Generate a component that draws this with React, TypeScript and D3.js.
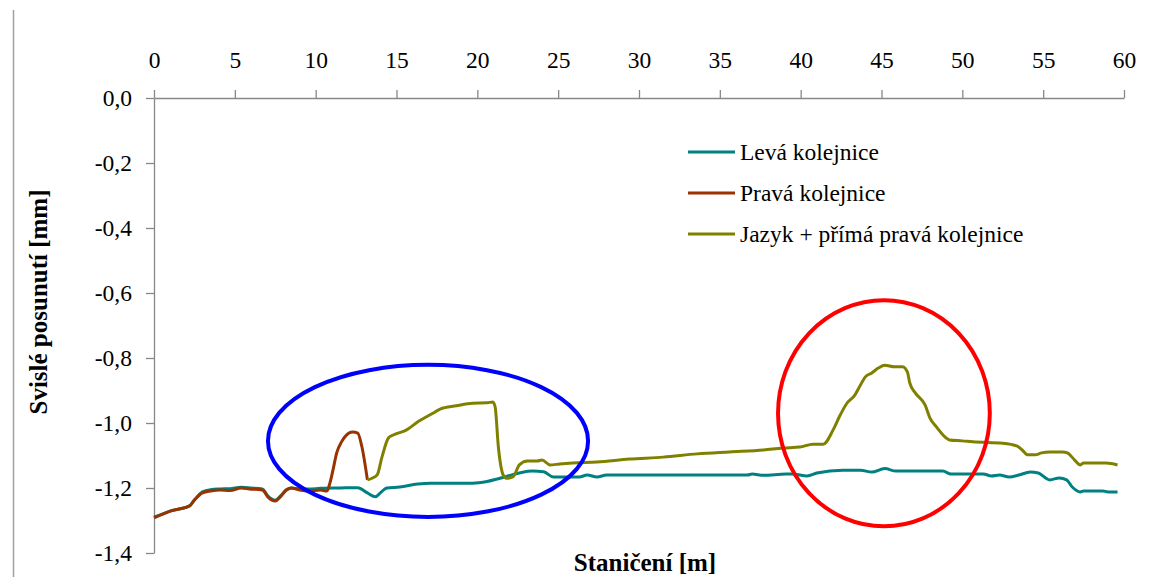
import React, { useEffect, useRef } from 'react';
import * as d3 from 'd3';

// Vertical displacement along the track (x in m, y in mm)
const levaKolejnice: [number, number][] = [
  [0, -1.29], [1, -1.271], [2.2, -1.255], [2.5, -1.237], [3, -1.212], [3.5, -1.205],
  [4.1, -1.203], [4.7, -1.202], [5.4, -1.198], [6, -1.2], [6.7, -1.203], [7.05, -1.225],
  [7.5, -1.238], [7.8, -1.226], [8.2, -1.205], [8.5, -1.2], [9, -1.203], [9.6, -1.203],
  [10.3, -1.201], [11.5, -1.2], [12.6, -1.199], [13.2, -1.215], [13.7, -1.227], [14.0, -1.215],
  [14.4, -1.2], [15.2, -1.197], [16.3, -1.188], [17.1, -1.185], [19.7, -1.185], [20.6, -1.18],
  [21.4, -1.17], [22.6, -1.154], [23.4, -1.148], [24.1, -1.15], [24.7, -1.166], [26.3, -1.166],
  [26.8, -1.16], [27.4, -1.166], [28, -1.16], [36.7, -1.16], [37, -1.157], [37.7, -1.161],
  [39.1, -1.157], [39.5, -1.157], [40.4, -1.163], [41, -1.154], [42.6, -1.145], [43.7, -1.145],
  [44.4, -1.151], [45.2, -1.14], [45.9, -1.148], [48.8, -1.148], [49.3, -1.157], [51.3, -1.157],
  [51.8, -1.163], [52.3, -1.16], [52.9, -1.166], [53.5, -1.16], [54.2, -1.151], [54.7, -1.154],
  [55.4, -1.175], [56, -1.169], [56.45, -1.175], [56.8, -1.197], [57.3, -1.212], [57.5, -1.209],
  [58.7, -1.209], [59, -1.212], [59.6, -1.212],
];

const pravaKolejnice: [number, number][] = [
  [0, -1.292], [1, -1.271], [2.2, -1.255], [2.5, -1.237], [3, -1.215], [3.5, -1.209],
  [4.1, -1.206], [4.7, -1.208], [5.4, -1.2], [5.9, -1.203], [6.7, -1.206], [7.05, -1.228],
  [7.5, -1.24], [7.8, -1.228], [8.2, -1.206], [8.5, -1.2], [9, -1.206], [9.6, -1.209],
  [10.3, -1.206], [10.7, -1.209], [10.88, -1.185], [11.07, -1.145], [11.3, -1.092], [11.6, -1.058],
  [11.8, -1.043], [12.3, -1.028], [12.6, -1.031], [12.86, -1.073], [13.2, -1.175],
];

const jazykPrimaPrava: [number, number][] = [
  [13.2, -1.175], [13.8, -1.16], [14.1, -1.105], [14.5, -1.046], [14.8, -1.037], [15.6, -1.022],
  [16.3, -0.997], [17.25, -0.97], [17.7, -0.957], [18.7, -0.947], [19.7, -0.939], [20.6, -0.938],
  [20.96, -0.935], [21.1, -0.95], [21.3, -1.073], [21.6, -1.16], [21.8, -1.17], [22.2, -1.166],
  [22.6, -1.129], [23.1, -1.117], [23.7, -1.117], [24.0, -1.114], [24.5, -1.129], [25.1, -1.126],
  [25.9, -1.123], [27.4, -1.12], [29.4, -1.111], [31.5, -1.105], [33.6, -1.095], [35.6, -1.089],
  [37.7, -1.083], [38.9, -1.077], [39.95, -1.074], [40.76, -1.065], [41.4, -1.065], [42.0, -1.022],
  [42.4, -0.98], [42.85, -0.94], [43.35, -0.914], [43.7, -0.883], [44.0, -0.858], [44.4, -0.846],
  [44.8, -0.831], [45.2, -0.822], [45.8, -0.827], [46.3, -0.827], [46.6, -0.843], [46.75, -0.877],
  [47.1, -0.908], [47.7, -0.945], [48.0, -0.985], [48.4, -1.012], [49.0, -1.046], [49.2, -1.052],
  [50.0, -1.055], [50.65, -1.058], [52.5, -1.062], [53.4, -1.071], [53.7, -1.083], [54.05, -1.098],
  [54.5, -1.098], [54.9, -1.092], [55.4, -1.089], [56.2, -1.089], [56.5, -1.092], [56.95, -1.114],
  [57.3, -1.129], [57.5, -1.123], [58.9, -1.123], [59.6, -1.129],
];

const xTicks = [0, 5, 10, 15, 20, 25, 30, 35, 40, 45, 50, 55, 60];
const yTicks = [0, -0.2, -0.4, -0.6, -0.8, -1.0, -1.2, -1.4];

const seriesNames = ['Levá kolejnice', 'Pravá kolejnice', 'Jazyk + přímá pravá kolejnice'];
const seriesColors = ['#008080', '#993300', '#808000'];

// highlight ellipses in data units: [cx, cy, rx (m), ry (mm), colour]
const highlights: [number, number, number, number, string][] = [
  [16.95, -1.055, 9.9, 0.234, '#0000ff'],
  [45.15, -0.97, 6.55, 0.348, '#ff0000'],
];

const FONT = "'Liberation Serif', serif";

export default function App() {
  const ref = useRef<SVGSVGElement | null>(null);

  useEffect(() => {
    const el = ref.current;
    if (!el) return;
    const svg = d3.select(el);
    svg.selectAll('*').remove();

    const W = 1151;
    const H = 577;
    const left = 154;
    const right = 1124;
    const top = 98;
    const bottom = 553;
    const axisColor = '#888888';
    const fs = 23.5;

    const x = d3.scaleLinear().domain([0, 60]).range([left, right]);
    const y = d3.scaleLinear().domain([0, -1.4]).range([top, bottom]);

    svg.attr('width', W).attr('height', H).attr('viewBox', `0 0 ${W} ${H}`)
      .attr('font-family', FONT);

    // outer frame line on the left
    svg.append('line')
      .attr('x1', 13.5).attr('x2', 13.5).attr('y1', 10).attr('y2', H)
      .attr('stroke', '#a0a0a0').attr('stroke-width', 1.5);

    // top x axis
    const xAxis = svg.append('g').attr('transform', `translate(0,${top})`)
      .call(d3.axisTop(x).tickValues(xTicks).tickSize(8).tickSizeOuter(0).tickPadding(22)
        .tickFormat((d) => String(d)));
    xAxis.attr('font-family', FONT).attr('font-size', fs);
    xAxis.select('.domain').attr('stroke', axisColor).attr('stroke-width', 1.3);
    xAxis.selectAll('.tick line').attr('stroke', axisColor).attr('stroke-width', 1.3);
    xAxis.selectAll('.tick text').attr('fill', '#000');

    // left y axis
    const fmt = (d: number) => d3.format('.1f')(d).replace('.', ',').replace('−', '-');
    const yAxis = svg.append('g').attr('transform', `translate(${left},0)`)
      .call(d3.axisLeft(y).tickValues(yTicks).tickSize(8).tickSizeOuter(0).tickPadding(14)
        .tickFormat((d) => fmt(d as number)));
    yAxis.attr('font-family', FONT).attr('font-size', fs);
    yAxis.select('.domain').attr('stroke', axisColor).attr('stroke-width', 1.3);
    yAxis.selectAll('.tick line').attr('stroke', axisColor).attr('stroke-width', 1.3);
    yAxis.selectAll('.tick text').attr('fill', '#000');

    // series lines
    const line = d3.line<[number, number]>()
      .x((d) => x(d[0]))
      .y((d) => y(d[1]))
      .curve(d3.curveMonotoneX);
    const allSeries = [levaKolejnice, pravaKolejnice, jazykPrimaPrava];
    allSeries.forEach((s, i) => {
      svg.append('path')
        .datum(s)
        .attr('d', line)
        .attr('fill', 'none')
        .attr('stroke', seriesColors[i])
        .attr('stroke-width', 3)
        .attr('stroke-linejoin', 'round');
    });

    // legend
    const lg = svg.append('g').attr('transform', 'translate(688,152)');
    seriesNames.forEach((name, i) => {
      const gy = i * 41;
      lg.append('line')
        .attr('x1', 0).attr('x2', 47).attr('y1', gy).attr('y2', gy)
        .attr('stroke', seriesColors[i]).attr('stroke-width', 3);
      lg.append('text')
        .attr('x', 52).attr('y', gy + 8)
        .attr('font-family', FONT).attr('font-size', fs)
        .text(name);
    });

    // highlight ellipses
    highlights.forEach(([cx, cy, rx, ry, c]) => {
      svg.append('ellipse')
        .attr('cx', x(cx)).attr('cy', y(cy))
        .attr('rx', x(rx) - x(0)).attr('ry', y(-ry) - y(0))
        .attr('fill', 'none').attr('stroke', c).attr('stroke-width', 4);
    });

    // axis titles
    svg.append('text')
      .attr('x', 645).attr('y', 571)
      .attr('text-anchor', 'middle')
      .attr('font-family', FONT).attr('font-size', 25).attr('font-weight', 'bold')
      .text('Staničení [m]');
    svg.append('text')
      .attr('transform', 'translate(47,302) rotate(-90)')
      .attr('text-anchor', 'middle')
      .attr('font-family', FONT).attr('font-size', 25).attr('font-weight', 'bold')
      .text('Svislé posunutí [mm]');
  }, []);

  return (
    <svg
      ref={ref}
      style={{ position: 'absolute', left: 0, top: 0, display: 'block', background: '#fff' }}
    />
  );
}
